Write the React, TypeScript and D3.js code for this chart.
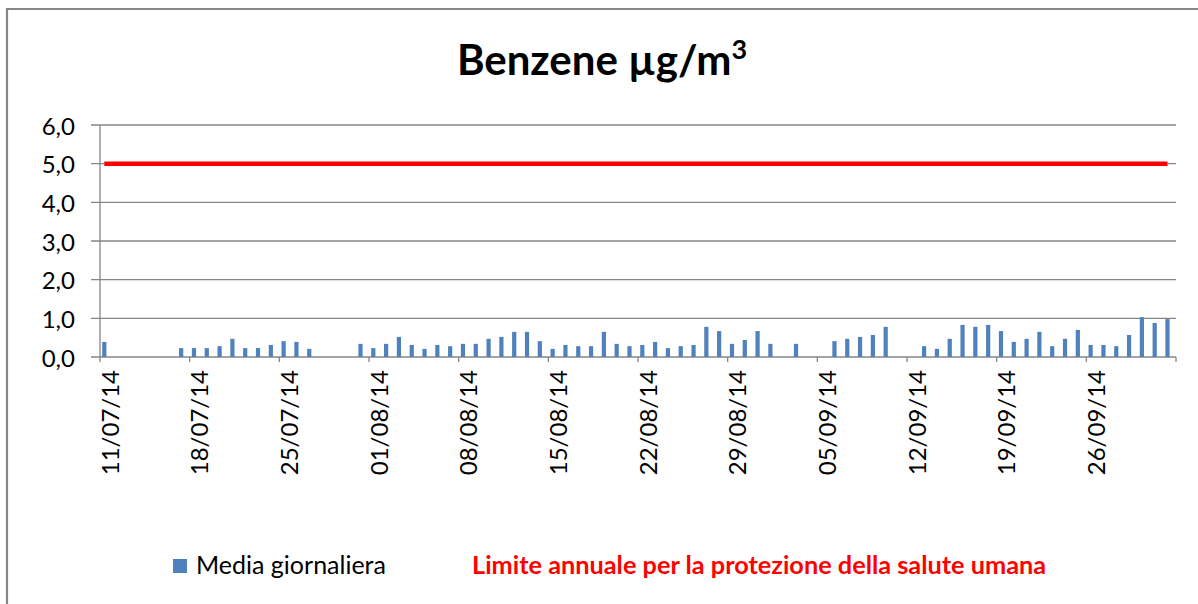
import React from "react";
import * as d3 from "d3";

// daily average benzene, one value per day from 11/07/14 to 02/10/14 (null = no data)
const mediaGiornaliera: (number | null)[] = [
  0.39, null, null, null, null, null, 0.23, 0.23, 0.23, 0.28,
  0.47, 0.23, 0.23, 0.31, 0.41, 0.39, 0.21, null, null, null,
  0.34, 0.23, 0.34, 0.52, 0.31, 0.21, 0.31, 0.28, 0.34, 0.34,
  0.47, 0.52, 0.65, 0.65, 0.41, 0.21, 0.31, 0.28, 0.28, 0.65,
  0.34, 0.28, 0.31, 0.39, 0.23, 0.28, 0.31, 0.78, 0.67, 0.34,
  0.44, 0.67, 0.34, null, 0.34, null, null, 0.41, 0.47, 0.52,
  0.57, 0.78, null, null, 0.28, 0.21, 0.47, 0.83, 0.78, 0.83,
  0.67, 0.39, 0.47, 0.65, 0.28, 0.47, 0.70, 0.31, 0.31, 0.28,
  0.57, 1.03, 0.88, 0.98,
];
const limiteAnnuale = 5;
const series = ["Media giornaliera", "Limite annuale per la protezione della salute umana"];
const yTicks = [0, 1, 2, 3, 4, 5, 6];
const dateTicks = [
  "11/07/14", "18/07/14", "25/07/14", "01/08/14", "08/08/14", "15/08/14",
  "22/08/14", "29/08/14", "05/09/14", "12/09/14", "19/09/14", "26/09/14",
];

const W = 1198;
const H = 604;
const font = "Lato, 'Open Sans', sans-serif";

const App = () => {
  const fmt = d3.timeFormat("%d/%m/%y");
  const days = d3.timeDay.range(new Date(2014, 6, 11), new Date(2014, 9, 3)).map(fmt);

  const x = d3.scaleBand().domain(days).range([100, 1176]).padding(0);
  const x1 = d3
    .scaleBand()
    .domain(series)
    .range([0, x.bandwidth()])
    .paddingInner(0)
    .paddingOuter(0.525);
  const y = d3.scaleLinear().domain([0, 6]).range([357, 125]);
  const yFmt = (v: number) => d3.format(".1f")(v).replace(".", ",");

  const barX = (d: string) => (x(d) as number) + (x1(series[0]) as number);
  const bw = x1.bandwidth();

  const limitLine = d3
    .line<string>()
    .x((d) => barX(d) + bw / 2)
    .y(() => y(limiteAnnuale))(days);

  const grid = "#868686";

  return (
    <svg
      width={W}
      height={H}
      viewBox={`0 0 ${W} ${H}`}
      style={{ position: "absolute", left: 0, top: 0, background: "#fff" }}
      fontFamily={font}
    >
      {/* outer chart border (only top and left visible) */}
      <path d={`M7,${H} V9 H${W}`} fill="none" stroke="#878787" strokeWidth={2.2} />

      <text x={602} y={75} textAnchor="middle" fontSize={42} fontWeight="bold" fill="#000">
        Benzene µg/m<tspan fontSize={27} dy={-16}>3</tspan>
      </text>

      {/* horizontal grid */}
      {yTicks.map((t) => (
        <g key={t}>
          <line x1={91} x2={1176} y1={y(t)} y2={y(t)} stroke={grid} strokeWidth={1.3} />
          <text
            x={75}
            y={y(t)}
            textAnchor="end"
            dominantBaseline="central"
            fontSize={24}
            fill="#000"
          >
            {yFmt(t)}
          </text>
        </g>
      ))}
      <line x1={100} x2={100} y1={y(6)} y2={y(0)} stroke={grid} strokeWidth={1.3} />

      {/* bars */}
      {days.map((d, i) => {
        const v = mediaGiornaliera[i];
        if (v == null) return null;
        return (
          <rect key={d} x={barX(d)} y={y(v)} width={bw} height={y(0) - y(v)} fill="#4F81BD" />
        );
      })}

      {/* limit line */}
      <path d={limitLine || ""} fill="none" stroke="#FF0000" strokeWidth={4.5} />

      {/* category axis ticks and labels */}
      {dateTicks.map((lab) => {
        const tx = x(lab) as number;
        return (
          <g key={lab}>
            <line x1={tx} x2={tx} y1={357} y2={362} stroke={grid} strokeWidth={1.3} />
            <text
              transform={`translate(${tx + 9},370) rotate(-90)`}
              textAnchor="end"
              dominantBaseline="central"
              fontSize={24}
              fill="#000"
            >
              {lab}
            </text>
          </g>
        );
      })}
      <line x1={1176} x2={1176} y1={357} y2={362} stroke={grid} strokeWidth={1.3} />

      {/* legend */}
      <rect x={173} y={559} width={14} height={14} fill="#4F81BD" />
      <text x={196} y={574} fontSize={25} fill="#000">
        {series[0]}
      </text>
      <text x={472} y={574} fontSize={25.3} fontWeight="bold" fill="#FF0000">
        {series[1]}
      </text>
    </svg>
  );
};

export default App;
